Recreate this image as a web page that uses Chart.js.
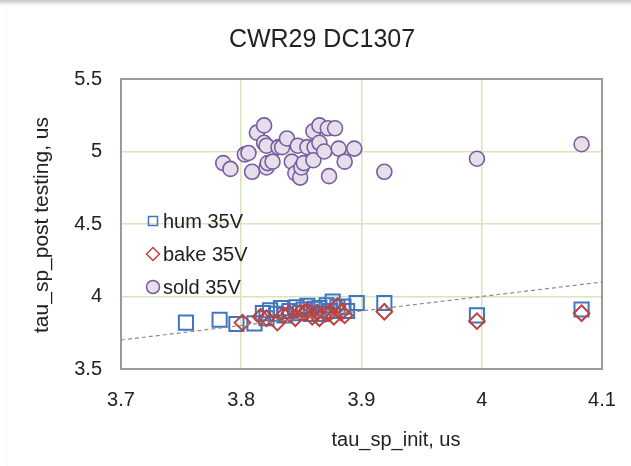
<!DOCTYPE html>
<html>
<head>
<meta charset="utf-8">
<title>CWR29 DC1307</title>
<script src="https://cdn.jsdelivr.net/npm/chart.js@4.4.1/dist/chart.umd.min.js"></script>
<style>
  html, body { margin: 0; padding: 0; background: #fff; }
  body { width: 631px; height: 466px; position: relative; overflow: hidden; }
  .topshade { position: absolute; left: 0; top: 0; width: 631px; height: 6px;
    background: linear-gradient(to bottom, rgba(0,0,0,0.22), rgba(0,0,0,0)); }
  .leftshade { position: absolute; left: 6px; top: 6px; width: 2px; height: 460px;
    background: linear-gradient(to right, rgba(0,0,0,0.04), rgba(0,0,0,0)); }
  #chart { position: absolute; left: 0; top: 0; }
</style>
</head>
<body>
<div class="topshade"></div>
<div class="leftshade"></div>
<canvas id="chart" width="631" height="466"></canvas>
<script>
// tau_sp initial vs. after testing, per condition
const humX  = [3.754, 3.782, 3.796, 3.811, 3.818, 3.821, 3.824, 3.829, 3.833, 3.836, 3.840, 3.846, 3.849, 3.852, 3.855, 3.858, 3.861, 3.865, 3.868, 3.871, 3.874, 3.876, 3.880, 3.885, 3.888, 3.896, 3.919, 3.996, 4.083];
const humY  = [3.82, 3.84, 3.81, 3.815, 3.885, 3.85, 3.905, 3.88, 3.92, 3.87, 3.90, 3.925, 3.885, 3.91, 3.935, 3.88, 3.915, 3.92, 3.88, 3.94, 3.90, 3.965, 3.925, 3.93, 3.90, 3.955, 3.955, 3.87, 3.91];

const bakeX = [3.801, 3.816, 3.821, 3.830, 3.835, 3.840, 3.845, 3.849, 3.853, 3.855, 3.859, 3.863, 3.865, 3.870, 3.874, 3.877, 3.880, 3.883, 3.886, 3.919, 3.996, 4.083];
const bakeY = [3.82, 3.86, 3.85, 3.82, 3.87, 3.885, 3.85, 3.89, 3.89, 3.90, 3.86, 3.89, 3.85, 3.88, 3.89, 3.86, 3.935, 3.89, 3.87, 3.895, 3.83, 3.885];

const soldX = [3.785, 3.791, 3.803, 3.806, 3.809, 3.813, 3.819, 3.819, 3.821, 3.821, 3.822, 3.826, 3.831, 3.834, 3.838, 3.842, 3.845, 3.847, 3.849, 3.850, 3.852, 3.855, 3.860, 3.861, 3.860, 3.865, 3.865, 3.869, 3.872, 3.873, 3.878, 3.881, 3.886, 3.894, 3.919, 3.996, 4.083];
const soldY = [4.92, 4.88, 4.98, 4.99, 4.86, 5.13, 5.18, 5.06, 5.04, 4.89, 4.92, 4.93, 5.03, 5.03, 5.09, 4.93, 4.85, 5.04, 4.82, 4.89, 4.92, 5.03, 5.14, 5.03, 4.94, 5.18, 5.06, 5.00, 5.16, 4.83, 5.16, 5.02, 4.93, 5.02, 4.86, 4.95, 5.05];

// reference line y = x
const refLine = [3.7, 4.1];

const xTicks = [3.7, 3.8, 3.9, 4.0, 4.1];
const yTicks = [3.5, 4.0, 4.5, 5.0, 5.5];

const FONT = 'Liberation Sans, Arial, sans-serif';
const GRID = '#d8e4bc';
const BORDER = '#9a9a9a';

function pts(xs, ys) {
    return xs.map((x, i) => ({ x: x, y: ys[i] }));
}

const series = [
    { label: 'hum 35V', style: 'rect', stroke: '#3f76bf', fill: 'rgba(255,255,255,0)', radius: 10, width: 2, order: 3 },
    { label: 'bake 35V', style: 'rectRot', stroke: '#c0403d', fill: 'rgba(255,255,255,0)', radius: 7.8, width: 2, order: 2 },
    { label: 'sold 35V', style: 'circle', stroke: '#7a5c9f', fill: '#e5dfec', radius: 7.5, width: 1.6, order: 1 }
];

// title, axis titles, frame and the in-plot legend
const decorPlugin = {
    id: 'decor',
    beforeDatasetsDraw(chart) {
        const ctx = chart.ctx;
        const a = chart.chartArea;
        ctx.save();
        ctx.strokeStyle = BORDER;
        ctx.lineWidth = 2;
        ctx.strokeRect(a.left, a.top, a.right - a.left, a.bottom - a.top);
        ctx.restore();
    },
    afterDraw(chart) {
        const ctx = chart.ctx;
        ctx.save();
        ctx.fillStyle = '#222';
        ctx.textBaseline = 'middle';
        ctx.textAlign = 'center';

        ctx.font = '25px ' + FONT;
        ctx.fillText('CWR29 DC1307', 322, 40);

        ctx.font = '20px ' + FONT;
        ctx.fillText('tau_sp_init, us', 396, 440);

        ctx.save();
        ctx.font = '21px ' + FONT;
        ctx.translate(42, 225);
        ctx.rotate(-Math.PI / 2);
        ctx.fillText('tau_sp_post testing, us', 0, 0);
        ctx.restore();

        // legend
        const rows = [221, 254, 287];
        ctx.textAlign = 'left';
        series.forEach((s, i) => {
            const y = rows[i];
            ctx.strokeStyle = s.stroke;
            ctx.fillStyle = s.fill;
            ctx.lineWidth = 1.5;
            Chart.helpers.drawPoint(ctx, {
                pointStyle: s.style,
                radius: s.style === 'rect' ? 6.4 : 6.5,
                rotation: 0,
                borderWidth: 1.5
            }, 153, y);
            ctx.fillStyle = '#222';
            ctx.fillText(s.label, 163, y + 1);
        });
        ctx.restore();
    }
};

const datasets = series.map((s, i) => ({
    label: s.label,
    data: pts([humX, bakeX, soldX][i], [humY, bakeY, soldY][i]),
    pointStyle: s.style,
    pointRadius: s.radius,
    pointHoverRadius: s.radius,
    pointBorderColor: s.stroke,
    pointBackgroundColor: s.fill,
    pointBorderWidth: s.width,
    showLine: false,
    order: s.order
}));

datasets.push({
    type: 'line',
    label: 'y = x',
    data: pts(refLine, refLine),
    borderColor: '#8c8c8c',
    borderWidth: 1.2,
    borderDash: [4, 3],
    pointRadius: 0,
    fill: false,
    order: 0
});

new Chart(document.getElementById('chart').getContext('2d'), {
    type: 'scatter',
    data: { datasets: datasets },
    plugins: [decorPlugin],
    options: {
        responsive: false,
        animation: false,
        events: [],
        layout: { padding: { left: 0, right: 29, top: 79, bottom: 0 } },
        plugins: {
            legend: { display: false },
            title: { display: false },
            tooltip: { enabled: false }
        },
        scales: {
            x: {
                type: 'linear',
                min: 3.7,
                max: 4.1,
                afterFit(scale) {
                    scale.height = 97;
                    scale.paddingLeft = 0;
                    scale.paddingRight = 0;
                },
                afterBuildTicks(scale) { scale.ticks = xTicks.map(v => ({ value: v })); },
                grid: { color: GRID, lineWidth: 1.6, drawTicks: false },
                border: { display: false },
                ticks: {
                    padding: 19,
                    color: '#222',
                    font: { family: FONT, size: 20 },
                    callback: v => String(Math.round(v * 10) / 10)
                }
            },
            y: {
                type: 'linear',
                min: 3.5,
                max: 5.5,
                afterFit(scale) {
                    scale.width = 121;
                    scale.paddingTop = 0;
                    scale.paddingBottom = 0;
                },
                afterBuildTicks(scale) { scale.ticks = yTicks.map(v => ({ value: v })); },
                grid: { color: GRID, lineWidth: 1.6, drawTicks: false },
                border: { display: false },
                ticks: {
                    padding: 19,
                    color: '#222',
                    font: { family: FONT, size: 20 },
                    callback: v => String(Math.round(v * 10) / 10)
                }
            }
        }
    }
});
</script>
</body>
</html>
